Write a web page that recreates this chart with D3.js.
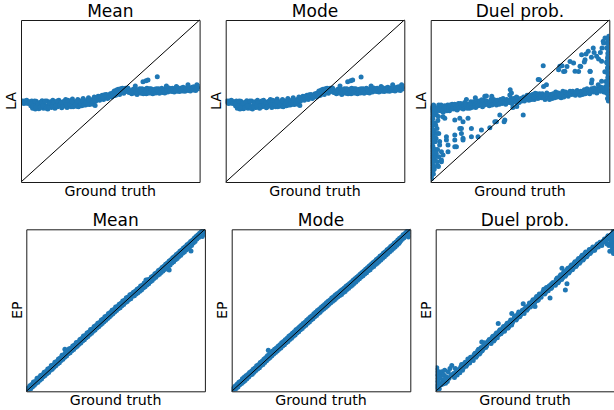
<!DOCTYPE html>
<html>
<head>
<meta charset="utf-8">
<script src="https://cdn.jsdelivr.net/npm/d3@7"></script>
<style>
  body { margin: 0; background: #fff; }
  svg { display: block; }
  text { font-family: "DejaVu Sans", sans-serif; fill: #000; }
</style>
</head>
<body>
<svg id="chart" width="614" height="410"></svg>
<script>
// Column titles, row labels and the shared x label
const columnTitles = ["Mean", "Mode", "Duel prob."];
const rowLabels = ["LA", "EP"];
const xLabel = "Ground truth";

// Each point is [ground truth, estimate], both on a 0–1 scale
const laMean = [
  [0.003,0.495],[0.012,0.49],[0.02,0.5],[0.028,0.488],[0.036,0.497],[0.045,0.492],
  [0.008,0.5],[0.016,0.485],[0.024,0.495],[0.032,0.505],[0.04,0.485],[0.05,0.495],
  [0.055,0.47],[0.06,0.5],[0.065,0.455],[0.072,0.485],[0.08,0.45],[0.085,0.498],[0.09,0.468],[0.1,0.452],[0.105,0.49],[0.11,0.472],[0.118,0.502],[0.125,0.455],[0.13,0.485],[0.138,0.468],[0.145,0.5],[0.15,0.45],[0.158,0.478],[0.165,0.495],[0.17,0.46],[0.178,0.505],[0.185,0.472],[0.19,0.455],[0.198,0.49],[0.205,0.465],[0.212,0.505],[0.22,0.48],
  [0.058,0.485],[0.068,0.47],[0.076,0.5],[0.083,0.462],[0.095,0.485],[0.108,0.462],[0.115,0.49],[0.122,0.47],[0.135,0.5],[0.142,0.455],[0.155,0.465],[0.162,0.485],[0.175,0.47],[0.182,0.49],[0.195,0.47],[0.202,0.5],[0.215,0.475],
  [0.228,0.458],[0.235,0.495],[0.242,0.47],[0.25,0.51],[0.258,0.46],[0.265,0.485],[0.272,0.5],[0.28,0.465],[0.288,0.512],[0.295,0.478],[0.302,0.495],[0.31,0.468],[0.318,0.51],[0.325,0.482],[0.332,0.5],[0.34,0.47],[0.348,0.515],[0.355,0.488],[0.362,0.475],[0.37,0.505],[0.378,0.52],[0.385,0.478],[0.392,0.495],[0.4,0.51],[0.405,0.48],[0.415,0.472],
  [0.225,0.49],[0.232,0.465],[0.245,0.5],[0.255,0.48],[0.262,0.505],[0.275,0.48],[0.285,0.495],[0.292,0.465],[0.305,0.48],[0.315,0.5],[0.322,0.465],[0.335,0.485],[0.345,0.5],[0.352,0.475],[0.365,0.49],[0.375,0.48],[0.382,0.505],[0.395,0.485],[0.402,0.5],
  [0.41,0.525],[0.418,0.498],[0.425,0.512],[0.432,0.53],[0.44,0.505],[0.448,0.52],[0.455,0.535],[0.462,0.51],[0.47,0.525],[0.478,0.54],[0.485,0.515],[0.492,0.53],[0.5,0.545],[0.508,0.525],
  [0.412,0.505],[0.422,0.52],[0.435,0.515],[0.445,0.53],[0.458,0.522],[0.468,0.538],[0.48,0.528],[0.49,0.522],[0.502,0.538],[0.512,0.55],
  [0.515,0.545],[0.522,0.562],[0.53,0.535],[0.538,0.558],[0.545,0.572],[0.552,0.54],[0.56,0.562],[0.568,0.578],[0.575,0.548],[0.582,0.568],[0.59,0.558],[0.598,0.58],[0.605,0.552],
  [0.52,0.532],[0.535,0.568],[0.548,0.552],[0.558,0.575],[0.572,0.56],[0.585,0.578],[0.595,0.565],[0.602,0.572],
  [0.612,0.56],[0.62,0.545],[0.628,0.572],[0.635,0.55],[0.642,0.565],[0.65,0.54],[0.658,0.56],[0.665,0.575],[0.672,0.548],[0.68,0.565],[0.688,0.555],[0.695,0.572],[0.702,0.545],[0.71,0.562],[0.718,0.575],[0.725,0.55],[0.732,0.565],[0.74,0.558],[0.748,0.572],
  [0.615,0.552],[0.625,0.562],[0.638,0.575],[0.645,0.555],[0.655,0.57],[0.668,0.56],[0.678,0.575],[0.685,0.545],[0.698,0.56],[0.705,0.578],[0.715,0.55],[0.728,0.575],[0.738,0.545],[0.745,0.562],
  [0.755,0.55],[0.762,0.565],[0.77,0.575],[0.778,0.555],[0.785,0.568],[0.792,0.552],[0.8,0.572],[0.808,0.56],[0.815,0.578],[0.822,0.555],[0.83,0.568],[0.838,0.575],[0.845,0.558],[0.852,0.57],[0.86,0.562],[0.868,0.578],[0.875,0.56],[0.882,0.572],[0.89,0.565],[0.898,0.58],[0.905,0.562],[0.912,0.575],[0.92,0.568],[0.928,0.582],[0.935,0.565],[0.942,0.578],[0.95,0.57],[0.958,0.585],[0.965,0.568],[0.972,0.58],[0.98,0.572],[0.988,0.585],[0.995,0.575],
  [0.758,0.575],[0.768,0.56],[0.775,0.548],[0.788,0.578],[0.798,0.562],[0.805,0.55],[0.818,0.565],[0.828,0.58],[0.835,0.562],[0.848,0.578],[0.858,0.555],[0.865,0.57],[0.878,0.582],[0.888,0.558],[0.895,0.57],[0.908,0.585],[0.918,0.56],[0.925,0.575],[0.938,0.585],[0.948,0.562],[0.955,0.575],[0.968,0.588],[0.978,0.565],[0.985,0.578],[0.998,0.59],
  [0.64,0.592],[0.683,0.619],[0.7,0.625],[0.711,0.63],[0.763,0.65],[0.814,0.593],[0.87,0.59],[0.935,0.6],[0.985,0.6]
];

const laMode = [
  [0.003,0.495],[0.012,0.49],[0.02,0.5],[0.028,0.488],[0.036,0.497],[0.045,0.492],
  [0.008,0.5],[0.016,0.485],[0.024,0.495],[0.032,0.505],[0.04,0.485],[0.05,0.495],
  [0.055,0.47],[0.06,0.5],[0.065,0.455],[0.072,0.485],[0.08,0.45],[0.085,0.498],[0.09,0.468],[0.1,0.452],[0.105,0.49],[0.11,0.472],[0.118,0.502],[0.125,0.455],[0.13,0.485],[0.138,0.468],[0.145,0.5],[0.15,0.45],[0.158,0.478],[0.165,0.495],[0.17,0.46],[0.178,0.505],[0.185,0.472],[0.19,0.455],[0.198,0.49],[0.205,0.465],[0.212,0.505],[0.22,0.48],
  [0.058,0.485],[0.068,0.47],[0.076,0.5],[0.083,0.462],[0.095,0.485],[0.108,0.462],[0.115,0.49],[0.122,0.47],[0.135,0.5],[0.142,0.455],[0.155,0.465],[0.162,0.485],[0.175,0.47],[0.182,0.49],[0.195,0.47],[0.202,0.5],[0.215,0.475],
  [0.228,0.458],[0.235,0.495],[0.242,0.47],[0.25,0.51],[0.258,0.46],[0.265,0.485],[0.272,0.5],[0.28,0.465],[0.288,0.512],[0.295,0.478],[0.302,0.495],[0.31,0.468],[0.318,0.51],[0.325,0.482],[0.332,0.5],[0.34,0.47],[0.348,0.515],[0.355,0.488],[0.362,0.475],[0.37,0.505],[0.378,0.52],[0.385,0.478],[0.392,0.495],[0.4,0.51],[0.405,0.48],[0.415,0.472],
  [0.225,0.49],[0.232,0.465],[0.245,0.5],[0.255,0.48],[0.262,0.505],[0.275,0.48],[0.285,0.495],[0.292,0.465],[0.305,0.48],[0.315,0.5],[0.322,0.465],[0.335,0.485],[0.345,0.5],[0.352,0.475],[0.365,0.49],[0.375,0.48],[0.382,0.505],[0.395,0.485],[0.402,0.5],
  [0.41,0.525],[0.418,0.498],[0.425,0.512],[0.432,0.53],[0.44,0.505],[0.448,0.52],[0.455,0.535],[0.462,0.51],[0.47,0.525],[0.478,0.54],[0.485,0.515],[0.492,0.53],[0.5,0.545],[0.508,0.525],
  [0.412,0.505],[0.422,0.52],[0.435,0.515],[0.445,0.53],[0.458,0.522],[0.468,0.538],[0.48,0.528],[0.49,0.522],[0.502,0.538],[0.512,0.55],
  [0.515,0.545],[0.522,0.562],[0.53,0.535],[0.538,0.558],[0.545,0.572],[0.552,0.54],[0.56,0.562],[0.568,0.578],[0.575,0.548],[0.582,0.568],[0.59,0.558],[0.598,0.58],[0.605,0.552],
  [0.52,0.532],[0.535,0.568],[0.548,0.552],[0.558,0.575],[0.572,0.56],[0.585,0.578],[0.595,0.565],[0.602,0.572],
  [0.612,0.56],[0.62,0.545],[0.628,0.572],[0.635,0.55],[0.642,0.565],[0.65,0.54],[0.658,0.56],[0.665,0.575],[0.672,0.548],[0.68,0.565],[0.688,0.555],[0.695,0.572],[0.702,0.545],[0.71,0.562],[0.718,0.575],[0.725,0.55],[0.732,0.565],[0.74,0.558],[0.748,0.572],
  [0.615,0.552],[0.625,0.562],[0.638,0.575],[0.645,0.555],[0.655,0.57],[0.668,0.56],[0.678,0.575],[0.685,0.545],[0.698,0.56],[0.705,0.578],[0.715,0.55],[0.728,0.575],[0.738,0.545],[0.745,0.562],
  [0.755,0.55],[0.762,0.565],[0.77,0.575],[0.778,0.555],[0.785,0.568],[0.792,0.552],[0.8,0.572],[0.808,0.56],[0.815,0.578],[0.822,0.555],[0.83,0.568],[0.838,0.575],[0.845,0.558],[0.852,0.57],[0.86,0.562],[0.868,0.578],[0.875,0.56],[0.882,0.572],[0.89,0.565],[0.898,0.58],[0.905,0.562],[0.912,0.575],[0.92,0.568],[0.928,0.582],[0.935,0.565],[0.942,0.578],[0.95,0.57],[0.958,0.585],[0.965,0.568],[0.972,0.58],[0.98,0.572],[0.988,0.585],[0.995,0.575],
  [0.758,0.575],[0.768,0.56],[0.775,0.548],[0.788,0.578],[0.798,0.562],[0.805,0.55],[0.818,0.565],[0.828,0.58],[0.835,0.562],[0.848,0.578],[0.858,0.555],[0.865,0.57],[0.878,0.582],[0.888,0.558],[0.895,0.57],[0.908,0.585],[0.918,0.56],[0.925,0.575],[0.938,0.585],[0.948,0.562],[0.955,0.575],[0.968,0.588],[0.978,0.565],[0.985,0.578],[0.998,0.59],
  [0.64,0.592],[0.683,0.619],[0.7,0.625],[0.711,0.63],[0.758,0.648],[0.814,0.593],[0.87,0.59],[0.935,0.6],[0.985,0.6]
];

const laDuel = [
  // near-zero ground truth column
  [0.004,0.02],[0.006,0.05],[0.003,0.08],[0.007,0.11],[0.004,0.14],[0.006,0.17],[0.003,0.2],[0.007,0.23],[0.004,0.26],[0.006,0.29],[0.003,0.32],[0.007,0.35],[0.004,0.38],[0.006,0.41],[0.003,0.44],[0.007,0.465],
  [0.004,0.035],[0.005,0.065],[0.005,0.095],[0.004,0.125],[0.005,0.155],[0.004,0.185],[0.005,0.215],[0.004,0.245],[0.005,0.275],[0.004,0.305],[0.005,0.335],[0.004,0.365],[0.005,0.395],[0.004,0.425],[0.005,0.455],
  [0.015,0.05],[0.02,0.08],[0.015,0.36],[0.02,0.3],[0.035,0.33],[0.03,0.27],[0.025,0.2],[0.04,0.1],[0.024,0.136],[0.043,0.095],[0.015,0.074],[0.034,0.3],[0.024,0.363],[0.043,0.404],
  [0.015,0.15],[0.02,0.18],[0.012,0.22],[0.025,0.25],[0.015,0.28],[0.018,0.32],[0.028,0.35],[0.012,0.39],[0.03,0.42],[0.04,0.38],[0.045,0.3],[0.038,0.2],[0.05,0.25],[0.017,0.1],[0.028,0.16],[0.036,0.125],[0.06,0.125],[0.06,0.187],
  // low loop
  [0.022,0.414],[0.079,0.393],[0.135,0.383],[0.163,0.331],[0.172,0.3],[0.181,0.27],[0.228,0.331],[0.228,0.28],[0.284,0.321],[0.265,0.28],[0.331,0.335],[0.368,0.372],[0.387,0.414],[0.415,0.383],[0.518,0.414],
  [0.088,0.28],[0.135,0.259],[0.144,0.218],[0.097,0.187],[0.06,0.136],[0.031,0.177],[0.022,0.249],[0.05,0.228],[0.045,0.156],[0.069,0.167],[0.013,0.125],[0.097,0.228],
  [0.069,0.403],[0.163,0.393],[0.181,0.372],[0.209,0.393],[0.359,0.372],[0.411,0.372],[0.135,0.29],[0.172,0.33],[0.181,0.259],[0.135,0.218],[0.088,0.259],
  // middle band, left half
  [0.012,0.44],[0.02,0.465],[0.03,0.43],[0.038,0.455],[0.045,0.475],[0.055,0.44],[0.062,0.46],[0.07,0.43],[0.078,0.47],[0.088,0.45],[0.095,0.475],[0.105,0.44],[0.112,0.46],[0.12,0.48],[0.13,0.45],[0.138,0.47],[0.148,0.445],[0.155,0.485],[0.165,0.46],[0.172,0.475],[0.182,0.45],[0.19,0.49],[0.2,0.465],[0.208,0.48],[0.218,0.455],[0.225,0.495],[0.235,0.47],[0.245,0.485],[0.252,0.46],[0.262,0.5],[0.27,0.475],[0.28,0.49],[0.29,0.465],[0.298,0.505],[0.308,0.48],[0.318,0.495],[0.328,0.47],[0.338,0.51],[0.348,0.485],[0.358,0.5],[0.368,0.475],[0.378,0.495],[0.39,0.51],[0.4,0.485],[0.41,0.5],[0.42,0.48],[0.43,0.505],[0.44,0.49],[0.45,0.515],[0.46,0.495],[0.47,0.505],[0.48,0.49],[0.49,0.51],[0.5,0.5],
  [0.008,0.455],[0.016,0.475],[0.026,0.45],[0.034,0.44],[0.042,0.46],[0.05,0.45],[0.058,0.475],[0.066,0.445],[0.074,0.455],[0.083,0.465],[0.091,0.44],[0.1,0.46],[0.108,0.475],[0.116,0.45],[0.125,0.465],[0.134,0.48],[0.143,0.46],[0.151,0.47],[0.16,0.455],[0.168,0.485],[0.177,0.46],[0.186,0.47],[0.195,0.48],[0.204,0.455],[0.213,0.47],[0.222,0.48],[0.23,0.46],[0.24,0.495],[0.248,0.475],[0.257,0.485],[0.266,0.47],[0.275,0.5],[0.284,0.48],[0.293,0.49],[0.302,0.475],[0.312,0.5],[0.322,0.485],[0.332,0.49],[0.343,0.475],[0.353,0.51],[0.363,0.49],[0.373,0.505],[0.384,0.48],[0.395,0.5],[0.405,0.515],[0.415,0.49],[0.425,0.51],[0.435,0.495],[0.445,0.5],[0.455,0.485],[0.465,0.515],[0.475,0.5],[0.485,0.52],[0.495,0.49],
  [0.286,0.507],[0.342,0.53],[0.445,0.569],[0.303,0.529],[0.452,0.549],[0.25,0.52],[0.2,0.51],[0.312,0.531],[0.443,0.537],[0.48,0.525],[0.482,0.466],[0.46,0.46],
  // middle band, right half
  [0.51,0.5],[0.52,0.525],[0.53,0.51],[0.54,0.535],[0.55,0.505],[0.56,0.52],[0.57,0.54],[0.58,0.51],[0.59,0.53],[0.6,0.515],[0.61,0.545],[0.62,0.52],[0.63,0.535],[0.64,0.51],[0.65,0.55],[0.66,0.525],[0.67,0.54],[0.68,0.515],[0.69,0.535],[0.7,0.555],[0.71,0.525],[0.72,0.545],[0.73,0.52],[0.74,0.56],[0.75,0.535],[0.76,0.55],[0.77,0.53],[0.78,0.56],[0.79,0.54],[0.8,0.555],[0.81,0.535],[0.82,0.565],[0.83,0.545],[0.84,0.56],[0.85,0.54],[0.86,0.57],[0.87,0.55],[0.88,0.565],[0.89,0.545],[0.9,0.575],[0.91,0.555],[0.92,0.57],[0.93,0.55],[0.94,0.58],[0.95,0.56],[0.96,0.575],[0.97,0.555],[0.98,0.59],[0.99,0.565],
  [0.505,0.515],[0.515,0.51],[0.525,0.5],[0.535,0.52],[0.545,0.525],[0.555,0.535],[0.565,0.51],[0.575,0.525],[0.585,0.535],[0.595,0.545],[0.605,0.525],[0.615,0.53],[0.625,0.545],[0.635,0.52],[0.645,0.535],[0.655,0.54],[0.665,0.51],[0.675,0.53],[0.685,0.545],[0.695,0.52],[0.705,0.54],[0.715,0.55],[0.725,0.535],[0.735,0.545],[0.745,0.525],[0.755,0.555],[0.765,0.54],[0.775,0.545],[0.785,0.545],[0.795,0.56],[0.805,0.545],[0.815,0.555],[0.825,0.55],[0.835,0.535],[0.845,0.555],[0.855,0.56],[0.865,0.545],[0.875,0.575],[0.885,0.555],[0.895,0.56],[0.905,0.565],[0.915,0.58],[0.925,0.56],[0.935,0.575],[0.945,0.57],[0.955,0.585],[0.965,0.565],[0.975,0.58],[0.985,0.575],[0.992,0.6],
  [0.648,0.6],[0.602,0.632],[0.9,0.611],[0.938,0.6],[0.957,0.622],[0.994,0.642],[0.99,0.704],[0.609,0.631],[0.632,0.59],[0.585,0.548],[0.903,0.63],[0.893,0.682],
  // upper cluster
  [0.63,0.718],[0.723,0.714],[0.751,0.683],[0.808,0.683],[0.836,0.714],[0.845,0.786],[0.864,0.755],[0.892,0.683],[0.882,0.807],[0.91,0.827],[0.929,0.776],[0.957,0.745],[0.966,0.869],[0.976,0.889],[0.985,0.827],[0.763,0.713],[0.744,0.682],[0.78,0.744],[0.8,0.734],[0.716,0.693],[0.735,0.717],[0.828,0.682],[0.84,0.713],[0.86,0.74],[0.87,0.79],[0.9,0.77],[0.915,0.8],[0.94,0.76],[0.95,0.8],
  // near-one ground truth column
  [0.995,0.5],[0.997,0.53],[0.993,0.56],[0.996,0.6],[0.998,0.63],[0.994,0.66],[0.997,0.69],[0.995,0.72],[0.998,0.75],[0.993,0.78],[0.996,0.81],[0.998,0.84],[0.994,0.87],[0.997,0.9],[0.985,0.55],[0.98,0.62],[0.975,0.68],[0.985,0.74],[0.968,0.858],[0.959,0.827],[0.987,0.734],
  [0.99,0.515],[0.992,0.545],[0.99,0.58],[0.99,0.615],[0.992,0.645],[0.99,0.675],[0.992,0.705],[0.99,0.765],[0.992,0.795],[0.99,0.855],[0.992,0.885]
];

const epMean = [
  [0.0,0.014],[0.005,0.0],[0.01,0.02],[0.015,0.008],[0.02,0.034],[0.025,0.016],[0.03,0.042],[0.035,0.028],[0.04,0.058],[0.045,0.038],[0.05,0.06],[0.055,0.05],[0.06,0.08],[0.065,0.056],[0.07,0.084],[0.075,0.068],[0.08,0.098],[0.085,0.076],[0.09,0.102],[0.095,0.09],
  [0.1,0.118],[0.105,0.098],[0.11,0.122],[0.115,0.108],[0.12,0.138],[0.125,0.116],[0.13,0.142],[0.135,0.13],[0.14,0.16],[0.145,0.136],[0.15,0.162],[0.155,0.148],[0.16,0.18],[0.165,0.158],[0.17,0.184],[0.175,0.168],[0.18,0.2],[0.185,0.176],[0.19,0.205],[0.195,0.19],
  [0.2,0.222],[0.205,0.198],[0.21,0.226],[0.215,0.21],[0.216,0.26],[0.22,0.24],[0.225,0.218],[0.23,0.246],[0.235,0.232],[0.24,0.262],[0.245,0.238],[0.25,0.266],[0.255,0.25],[0.26,0.28],[0.265,0.258],[0.27,0.286],[0.275,0.27],[0.28,0.302],[0.285,0.278],[0.29,0.305],[0.295,0.29],
  [0.3,0.32],[0.305,0.298],[0.31,0.326],[0.315,0.31],[0.32,0.342],[0.325,0.318],[0.33,0.345],[0.335,0.33],[0.34,0.36],[0.345,0.338],[0.35,0.366],[0.355,0.35],[0.36,0.382],[0.365,0.358],[0.37,0.385],[0.375,0.37],[0.38,0.4],[0.385,0.378],[0.39,0.406],[0.395,0.39],
  [0.4,0.42],[0.405,0.398],[0.41,0.425],[0.415,0.41],[0.42,0.44],[0.425,0.418],[0.43,0.446],[0.435,0.43],[0.44,0.46],[0.445,0.438],[0.45,0.465],[0.455,0.45],[0.46,0.48],[0.465,0.458],[0.47,0.486],[0.475,0.47],[0.48,0.5],[0.485,0.478],[0.49,0.505],[0.495,0.49],
  [0.5,0.52],[0.505,0.498],[0.51,0.524],[0.515,0.51],[0.52,0.538],[0.525,0.516],[0.53,0.544],[0.535,0.528],[0.54,0.558],[0.545,0.536],[0.55,0.562],[0.555,0.548],[0.56,0.578],[0.565,0.554],[0.57,0.582],[0.575,0.566],[0.58,0.596],[0.585,0.572],[0.59,0.6],[0.595,0.586],
  [0.6,0.612],[0.605,0.59],[0.61,0.618],[0.615,0.6],[0.62,0.63],[0.625,0.608],[0.63,0.636],[0.635,0.618],[0.64,0.65],[0.645,0.626],[0.65,0.654],[0.655,0.638],[0.66,0.668],[0.665,0.645],[0.67,0.672],[0.67,0.687],[0.675,0.656],[0.68,0.688],[0.685,0.664],[0.69,0.692],[0.695,0.676],
  [0.7,0.706],[0.705,0.684],[0.71,0.712],[0.715,0.696],[0.72,0.726],[0.725,0.704],[0.73,0.732],[0.735,0.716],[0.74,0.745],[0.745,0.722],[0.75,0.752],[0.755,0.734],[0.76,0.764],[0.765,0.742],[0.77,0.772],[0.775,0.752],[0.78,0.784],[0.785,0.762],[0.79,0.792],[0.795,0.772],
  [0.8,0.804],[0.8,0.748],[0.805,0.78],[0.81,0.812],[0.815,0.792],[0.82,0.824],[0.825,0.8],[0.83,0.832],[0.835,0.812],[0.84,0.844],[0.845,0.82],[0.85,0.852],[0.855,0.832],[0.86,0.864],[0.865,0.84],[0.87,0.872],[0.875,0.852],[0.88,0.884],[0.885,0.86],[0.89,0.892],[0.895,0.872],
  [0.9,0.904],[0.905,0.88],[0.91,0.912],[0.915,0.892],[0.922,0.866],[0.92,0.924],[0.925,0.9],[0.93,0.932],[0.935,0.915],[0.94,0.945],[0.945,0.925],[0.95,0.955],[0.955,0.94],[0.96,0.965],[0.965,0.95],[0.97,0.975],[0.975,0.962],[0.98,0.985],[0.985,0.975],[0.99,0.994],[0.995,0.986],[0.998,0.97],[0.985,0.955]
];

const epMode = [
  [0.0,0.012],[0.005,0.002],[0.01,0.022],[0.015,0.006],[0.02,0.032],[0.025,0.018],[0.03,0.044],[0.035,0.026],[0.04,0.056],[0.045,0.04],[0.05,0.062],[0.055,0.048],[0.06,0.078],[0.065,0.058],[0.07,0.086],[0.075,0.066],[0.08,0.096],[0.085,0.078],[0.09,0.104],[0.095,0.088],
  [0.1,0.116],[0.105,0.1],[0.11,0.124],[0.115,0.106],[0.12,0.136],[0.125,0.118],[0.13,0.144],[0.135,0.128],[0.14,0.158],[0.145,0.138],[0.15,0.164],[0.155,0.146],[0.16,0.178],[0.165,0.16],[0.17,0.186],[0.175,0.166],[0.18,0.198],[0.185,0.178],[0.19,0.207],[0.195,0.188],
  [0.2,0.22],[0.205,0.2],[0.205,0.253],[0.21,0.228],[0.215,0.208],[0.22,0.238],[0.225,0.22],[0.23,0.248],[0.235,0.23],[0.24,0.26],[0.245,0.24],[0.25,0.268],[0.255,0.248],[0.26,0.278],[0.265,0.26],[0.27,0.288],[0.275,0.268],[0.28,0.3],[0.285,0.28],[0.29,0.307],[0.295,0.288],
  [0.3,0.318],[0.305,0.3],[0.31,0.328],[0.315,0.308],[0.32,0.34],[0.325,0.32],[0.33,0.347],[0.335,0.328],[0.34,0.358],[0.345,0.34],[0.35,0.368],[0.355,0.348],[0.36,0.38],[0.365,0.36],[0.37,0.387],[0.375,0.368],[0.38,0.398],[0.385,0.38],[0.39,0.408],[0.395,0.388],
  [0.4,0.418],[0.405,0.4],[0.41,0.427],[0.415,0.408],[0.42,0.438],[0.425,0.42],[0.43,0.448],[0.435,0.428],[0.44,0.458],[0.445,0.44],[0.45,0.467],[0.455,0.448],[0.46,0.478],[0.465,0.46],[0.47,0.488],[0.475,0.468],[0.48,0.498],[0.485,0.48],[0.49,0.507],[0.495,0.488],
  [0.5,0.518],[0.505,0.5],[0.51,0.526],[0.515,0.508],[0.52,0.536],[0.525,0.518],[0.53,0.546],[0.535,0.526],[0.54,0.556],[0.545,0.538],[0.55,0.564],[0.555,0.546],[0.56,0.576],[0.565,0.556],[0.57,0.584],[0.575,0.564],[0.58,0.594],[0.585,0.574],[0.59,0.602],[0.595,0.584],
  [0.6,0.61],[0.605,0.592],[0.61,0.62],[0.615,0.598],[0.62,0.628],[0.625,0.61],[0.63,0.638],[0.635,0.616],[0.64,0.648],[0.645,0.628],[0.65,0.656],[0.655,0.636],[0.66,0.666],[0.665,0.647],[0.67,0.674],[0.675,0.654],[0.68,0.686],[0.685,0.666],[0.69,0.694],[0.695,0.674],
  [0.7,0.704],[0.705,0.686],[0.71,0.714],[0.715,0.694],[0.72,0.724],[0.725,0.706],[0.73,0.734],[0.735,0.714],[0.74,0.743],[0.745,0.724],[0.75,0.754],[0.755,0.732],[0.76,0.762],[0.765,0.744],[0.77,0.774],[0.775,0.75],[0.78,0.782],[0.785,0.764],[0.79,0.794],[0.795,0.77],
  [0.8,0.802],[0.805,0.782],[0.81,0.814],[0.815,0.79],[0.82,0.822],[0.825,0.802],[0.83,0.834],[0.835,0.81],[0.84,0.842],[0.845,0.822],[0.85,0.854],[0.855,0.83],[0.86,0.862],[0.865,0.842],[0.87,0.874],[0.875,0.85],[0.88,0.882],[0.885,0.862],[0.89,0.894],[0.895,0.87],
  [0.9,0.902],[0.905,0.882],[0.91,0.914],[0.915,0.89],[0.92,0.922],[0.925,0.902],[0.93,0.934],[0.935,0.912],[0.94,0.92],[0.94,0.944],[0.945,0.928],[0.95,0.953],[0.955,0.938],[0.96,0.966],[0.965,0.948],[0.97,0.974],[0.975,0.96],[0.98,0.986],[0.985,0.972],[0.99,0.992],[0.995,0.984],[0.998,0.965],[0.99,0.952]
];

const epDuel = [
  // cluster near zero
  [0.004,0.01],[0.01,0.03],[0.005,0.05],[0.015,0.02],[0.008,0.07],[0.02,0.05],[0.004,0.09],[0.012,0.1],[0.025,0.08],[0.018,0.12],[0.03,0.1],[0.005,0.13],[0.04,0.07],[0.035,0.12],[0.045,0.1],[0.05,0.13],[0.06,0.09],[0.07,0.12],[0.08,0.14],[0.09,0.16],[0.065,0.06],[0.055,0.05],[0.075,0.08],[0.03,0.04],[0.02,0.015],
  [0.004,0.03],[0.004,0.11],[0.006,0.145],[0.012,0.06],[0.022,0.09],[0.04,0.045],[0.05,0.075],[0.085,0.1],
  // diagonal band
  [0.1,0.11],[0.11,0.14],[0.12,0.1],[0.13,0.135],[0.14,0.15],[0.15,0.13],[0.16,0.17],[0.17,0.155],[0.18,0.2],[0.19,0.175],[0.2,0.21],[0.21,0.19],[0.22,0.235],[0.23,0.22],[0.24,0.26],[0.25,0.24],[0.258,0.305],[0.26,0.25],[0.27,0.29],[0.28,0.27],[0.29,0.3],[0.3,0.32],[0.31,0.295],[0.32,0.34],[0.33,0.32],[0.34,0.36],[0.35,0.418],[0.355,0.35],[0.36,0.38],[0.37,0.365],[0.38,0.4],[0.39,0.385],[0.4,0.42],[0.41,0.4],[0.42,0.44],[0.426,0.48],[0.43,0.425],[0.44,0.455],[0.45,0.44],[0.46,0.475],[0.47,0.46],[0.48,0.49],[0.49,0.54],[0.495,0.48],[0.5,0.51],[0.51,0.5],[0.52,0.53],[0.53,0.52],[0.54,0.555],[0.55,0.54],[0.556,0.524],[0.56,0.575],[0.57,0.56],[0.58,0.6],[0.59,0.58],[0.6,0.615],[0.61,0.6],[0.62,0.64],[0.63,0.62],[0.64,0.576],[0.645,0.66],[0.65,0.64],[0.66,0.67],[0.67,0.655],[0.68,0.7],[0.69,0.68],[0.7,0.72],[0.707,0.76],[0.71,0.7],[0.72,0.74],[0.726,0.625],[0.735,0.664],[0.73,0.72],[0.74,0.76],[0.75,0.74],[0.76,0.78],[0.77,0.76],[0.78,0.8],[0.79,0.78],[0.8,0.82],[0.81,0.8],[0.82,0.84],[0.83,0.82],[0.84,0.86],[0.85,0.84],[0.86,0.875],[0.87,0.86],[0.88,0.89],[0.89,0.87],
  [0.105,0.085],[0.115,0.12],[0.125,0.125],[0.135,0.115],[0.145,0.165],[0.155,0.145],[0.165,0.18],[0.175,0.165],[0.185,0.185],[0.195,0.21],[0.205,0.2],[0.215,0.225],[0.225,0.21],[0.235,0.25],[0.245,0.23],[0.255,0.27],[0.265,0.26],[0.275,0.3],[0.285,0.28],[0.295,0.31],[0.305,0.3],[0.315,0.33],[0.325,0.31],[0.335,0.35],[0.345,0.33],[0.355,0.37],[0.365,0.355],[0.375,0.39],[0.385,0.37],[0.395,0.41],[0.405,0.39],[0.415,0.43],[0.425,0.41],[0.435,0.44],[0.445,0.465],[0.455,0.45],[0.465,0.49],[0.475,0.47],[0.485,0.5],[0.495,0.505],[0.505,0.52],[0.515,0.51],[0.525,0.545],[0.535,0.53],[0.545,0.565],[0.555,0.55],[0.565,0.585],[0.575,0.565],[0.585,0.59],[0.595,0.6],[0.605,0.63],[0.615,0.61],[0.625,0.63],[0.635,0.65],[0.645,0.635],[0.655,0.67],[0.665,0.66],[0.675,0.69],[0.685,0.67],[0.695,0.71],[0.705,0.69],[0.715,0.73],[0.725,0.71],[0.735,0.75],[0.745,0.73],[0.755,0.77],[0.765,0.75],[0.775,0.79],[0.785,0.77],[0.795,0.81],[0.805,0.79],[0.815,0.83],[0.825,0.81],[0.835,0.85],[0.845,0.83],[0.855,0.86],[0.865,0.85],[0.875,0.88],[0.885,0.87],[0.895,0.885],
  // cluster near one
  [0.9,0.9],[0.91,0.89],[0.92,0.92],[0.93,0.9],[0.94,0.93],[0.95,0.92],[0.96,0.95],[0.97,0.94],[0.975,0.865],[0.98,0.96],[0.99,0.975],[0.995,0.99],[0.985,0.9],[0.99,0.88],[0.995,0.92],[0.97,0.9],[0.96,0.91],
  [0.905,0.91],[0.915,0.905],[0.925,0.91],[0.935,0.925],[0.945,0.94],[0.955,0.935],[0.965,0.96],[0.975,0.95],[0.985,0.97],[0.99,0.94],[0.995,0.96],[0.98,0.92],[0.99,0.9],[0.998,0.87],[0.995,0.85]
];

// Panel frames: left/top corner of each plotting area, row by row
const panelOrigins = [
  [21, 20], [225.7, 20], [430.7, 20],
  [26.3, 229.3], [231.7, 229.3], [435.7, 229.3]
];
const panelW = 178.6, panelH = 162;
const pointColor = "#1f77b4";

const panels = [laMean, laMode, laDuel, epMean, epMode, epDuel];
const svg = d3.select("#chart");
const defs = svg.append("defs");

panels.forEach((pts, i) => {
  const row = Math.floor(i / 3), col = i % 3;
  const [left, top] = panelOrigins[i];
  const x = d3.scaleLinear().domain([0, 1]).range([left, left + panelW]);
  const y = d3.scaleLinear().domain([0, 1]).range([top + panelH, top]);

  const clipId = "clip-" + i;
  defs.append("clipPath").attr("id", clipId)
    .append("rect")
    .attr("x", left).attr("y", top)
    .attr("width", panelW).attr("height", panelH);

  const g = svg.append("g");

  // scatter
  g.append("g")
    .attr("clip-path", `url(#${clipId})`)
    .selectAll("circle")
    .data(pts)
    .join("circle")
    .attr("cx", d => x(d[0]))
    .attr("cy", d => y(d[1]))
    .attr("r", 2.5)
    .attr("fill", pointColor);

  // identity line
  g.append("path")
    .datum([[0, 0], [1, 1]])
    .attr("d", d3.line().x(d => x(d[0])).y(d => y(d[1])))
    .attr("stroke", "#000")
    .attr("stroke-width", 1)
    .attr("fill", "none");

  // frame drawn as tickless axes
  const frame = [
    [d3.axisBottom(x), `translate(0,${top + panelH})`],
    [d3.axisTop(x), `translate(0,${top})`],
    [d3.axisLeft(y), `translate(${left},0)`],
    [d3.axisRight(y), `translate(${left + panelW},0)`]
  ];
  frame.forEach(([ax, tr]) => {
    const a = g.append("g").attr("transform", tr)
      .call(ax.tickValues([]).tickSizeOuter(0));
    a.select(".domain").attr("stroke", "#1a1a1a").attr("stroke-width", 1);
  });

  // titles and labels
  g.append("text")
    .attr("x", left + panelW / 2)
    .attr("y", top - 3.5)
    .attr("text-anchor", "middle")
    .attr("font-size", 17)
    .text(columnTitles[col]);

  g.append("text")
    .attr("x", left + panelW / 2)
    .attr("y", top + panelH + 13.8)
    .attr("text-anchor", "middle")
    .attr("font-size", 14.2)
    .text(xLabel);

  g.append("text")
    .attr("transform", `translate(${left - 4.8},${top + panelH / 2}) rotate(-90)`)
    .attr("text-anchor", "middle")
    .attr("font-size", 14.2)
    .text(rowLabels[row]);
});
</script>
</body>
</html>
